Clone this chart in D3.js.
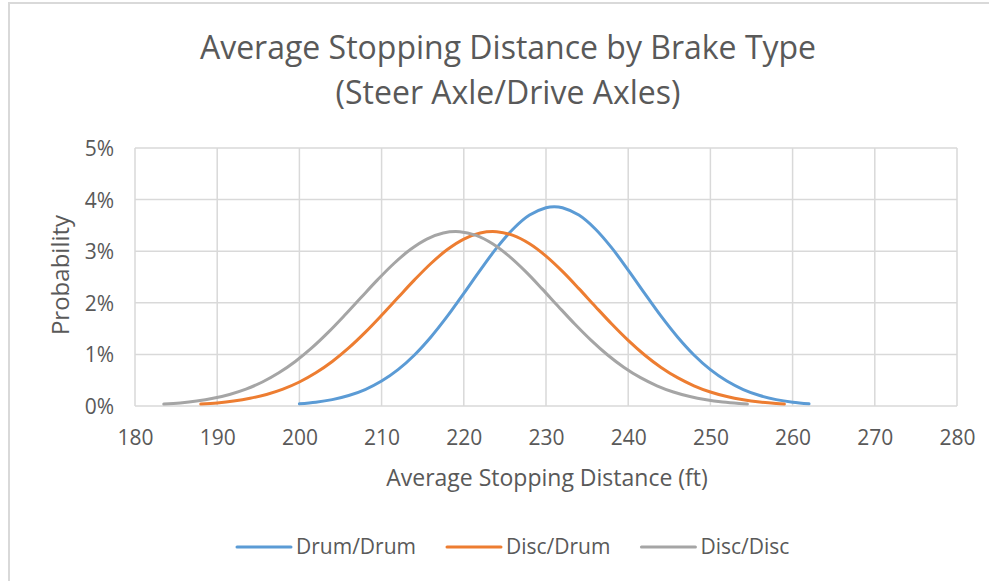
<!DOCTYPE html>
<html>
<head>
<meta charset="utf-8">
<script src="https://cdn.jsdelivr.net/npm/d3@7"></script>
<style>
  html, body { margin: 0; padding: 0; background: #fff; }
  svg { display: block; }
  text { font-family: "Open Sans", "Liberation Sans", sans-serif; fill: #595959; }
</style>
</head>
<body>
<svg id="chart" width="989" height="581"></svg>
<script>
// Stopping distance (ft) and probability (%) for each brake configuration
const drumDrumX = [200, 202, 204, 206, 208, 210, 212, 214, 216, 218, 220, 222, 224, 226, 228, 230, 231,
                   232, 234, 236, 238, 240, 242, 244, 246, 248, 250, 252, 254, 256, 258, 260, 262];
const drumDrumY = [0.042, 0.073, 0.124, 0.203, 0.319, 0.483, 0.704, 0.989, 1.338, 1.741, 2.183, 2.634, 3.064, 3.431, 3.700, 3.842, 3.862,
                   3.842, 3.700, 3.431, 3.064, 2.634, 2.183, 1.741, 1.338, 0.989, 0.704, 0.483, 0.319, 0.203, 0.124, 0.073, 0.042];

const discDrumX = [188, 190, 192, 194, 196, 198, 200, 202, 204, 206, 208, 210, 212, 214, 216, 218, 220, 222, 224,
                   226, 228, 230, 232, 234, 236, 238, 240, 242, 244, 246, 248, 250, 252, 254, 256, 258, 259];
const discDrumY = [0.037, 0.060, 0.096, 0.149, 0.224, 0.327, 0.465, 0.643, 0.863, 1.125, 1.426, 1.757, 2.102, 2.444, 2.762, 3.032, 3.235, 3.353, 3.377,
                   3.305, 3.143, 2.904, 2.608, 2.275, 1.929, 1.589, 1.272, 0.989, 0.747, 0.549, 0.392, 0.271, 0.183, 0.120, 0.076, 0.047, 0.037];

const discDiscX = [183.5, 185.5, 187.5, 189.5, 191.5, 193.5, 195.5, 197.5, 199.5, 201.5, 203.5, 205.5, 207.5, 209.5, 211.5, 213.5, 215.5, 217.5, 219.5,
                   221.5, 223.5, 225.5, 227.5, 229.5, 231.5, 233.5, 235.5, 237.5, 239.5, 241.5, 243.5, 245.5, 247.5, 249.5, 251.5, 253.5, 254.5];
const discDiscY = [0.037, 0.060, 0.096, 0.149, 0.224, 0.327, 0.465, 0.643, 0.863, 1.125, 1.426, 1.757, 2.102, 2.444, 2.762, 3.032, 3.235, 3.353, 3.377,
                   3.305, 3.143, 2.904, 2.608, 2.275, 1.929, 1.589, 1.272, 0.989, 0.747, 0.549, 0.392, 0.271, 0.183, 0.120, 0.076, 0.047, 0.037];

const seriesNames = ["Drum/Drum", "Disc/Drum", "Disc/Disc"];
const seriesColors = ["#5B9BD5", "#ED7D31", "#A5A5A5"];
const xTicks = [180, 190, 200, 210, 220, 230, 240, 250, 260, 270, 280];
const yTicks = [0, 1, 2, 3, 4, 5];
const titleLines = ["Average Stopping Distance by Brake Type", "(Steer Axle/Drive Axles)"];
const xAxisTitle = "Average Stopping Distance (ft)";
const yAxisTitle = "Probability";

const series = [
  { name: seriesNames[0], color: seriesColors[0], pts: drumDrumX.map((x, i) => [x, drumDrumY[i]]) },
  { name: seriesNames[1], color: seriesColors[1], pts: discDrumX.map((x, i) => [x, discDrumY[i]]) },
  { name: seriesNames[2], color: seriesColors[2], pts: discDiscX.map((x, i) => [x, discDiscY[i]]) }
];

const svg = d3.select("#chart");
const W = 989, H = 581;
const plot = { left: 135, right: 957, top: 148, bottom: 406 };
const gridColor = "#D9D9D9";

// outer chart frame (top and left edges)
svg.append("line").attr("x1", 8).attr("x2", W).attr("y1", 3).attr("y2", 3)
  .attr("stroke", gridColor).attr("stroke-width", 2);
svg.append("line").attr("x1", 9).attr("x2", 9).attr("y1", 3).attr("y2", H)
  .attr("stroke", gridColor).attr("stroke-width", 2);

const x = d3.scaleLinear().domain([180, 280]).range([plot.left, plot.right]);
const y = d3.scaleLinear().domain([0, 5]).range([plot.bottom, plot.top]);

// gridlines
const grid = svg.append("g");
grid.selectAll(".vg").data(xTicks).join("line")
  .attr("x1", d => x(d)).attr("x2", d => x(d))
  .attr("y1", plot.top).attr("y2", plot.bottom)
  .attr("stroke", gridColor).attr("stroke-width", 1.5);
grid.selectAll(".hg").data(yTicks).join("line")
  .attr("x1", plot.left).attr("x2", plot.right)
  .attr("y1", d => y(d)).attr("y2", d => y(d))
  .attr("stroke", gridColor).attr("stroke-width", 1.5);

// axes (labels only; lines come from the grid)
const xAxis = d3.axisBottom(x).tickValues(xTicks).tickSize(0).tickPadding(0).tickFormat(d3.format("d"));
const gx = svg.append("g").attr("transform", `translate(0,${plot.bottom})`).call(xAxis);
gx.select(".domain").remove();
gx.selectAll("text").attr("y", 39).attr("dy", null).style("font-size", "21px").attr("fill", "#595959");

const yAxis = d3.axisLeft(y).tickValues(yTicks).tickSize(0).tickPadding(0).tickFormat(d => d + "%");
const gy = svg.append("g").attr("transform", `translate(${plot.left},0)`).call(yAxis);
gy.select(".domain").remove();
gy.selectAll("text").attr("x", -21).attr("dy", "0.36em").style("font-size", "21px").attr("fill", "#595959");

// series lines
const line = d3.line().x(d => x(d[0])).y(d => y(d[1])).curve(d3.curveCatmullRom.alpha(0.5));
svg.append("g").selectAll("path").data(series).join("path")
  .attr("d", d => line(d.pts))
  .attr("fill", "none")
  .attr("stroke", d => d.color)
  .attr("stroke-width", 3)
  .attr("stroke-linecap", "round")
  .attr("stroke-linejoin", "round");

// titles
const cx = 508;
svg.append("text").attr("x", cx).attr("y", 59).attr("text-anchor", "middle")
  .style("font-size", "32px").text(titleLines[0]);
svg.append("text").attr("x", cx).attr("y", 104).attr("text-anchor", "middle")
  .style("font-size", "32px").text(titleLines[1]);

svg.append("text").attr("x", 547).attr("y", 486).attr("text-anchor", "middle")
  .style("font-size", "23px").text(xAxisTitle);

svg.append("text").attr("transform", `translate(69,275) rotate(-90)`)
  .attr("text-anchor", "middle").style("font-size", "24px").text(yAxisTitle);

// legend
const legend = svg.append("g");
let lx = 237;
const ly = 547;
series.forEach(s => {
  legend.append("line").attr("x1", lx).attr("x2", lx + 54).attr("y1", ly).attr("y2", ly)
    .attr("stroke", s.color).attr("stroke-width", 3).attr("stroke-linecap", "round");
  const t = legend.append("text").attr("x", lx + 59).attr("y", ly).attr("dy", "0.35em")
    .style("font-size", "21px").text(s.name);
  lx += 59 + t.node().getComputedTextLength() + 31;
});
</script>
</body>
</html>
